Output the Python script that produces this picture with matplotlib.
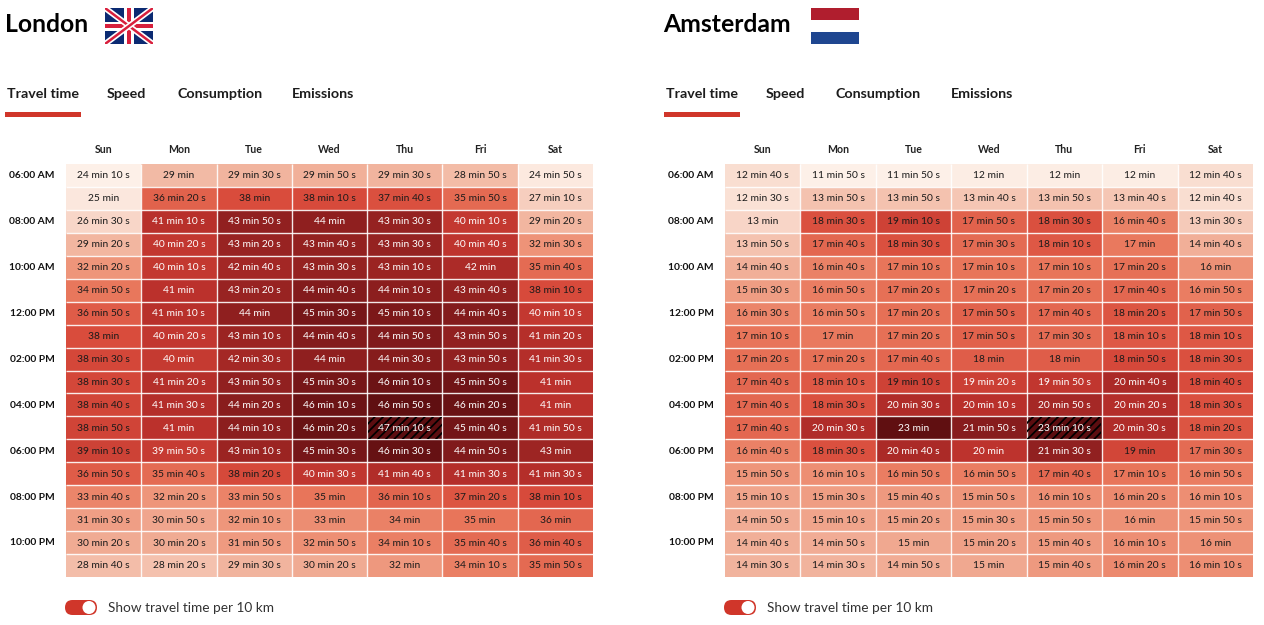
import matplotlib
matplotlib.use("Agg")
import matplotlib.pyplot as plt
import numpy as np
from matplotlib.colors import LinearSegmentedColormap
from matplotlib.patches import Rectangle, FancyBboxPatch, Circle

plt.rcParams['font.family'] = ['Lato', 'DejaVu Sans']
plt.rcParams['hatch.linewidth'] = 1.25

days = ["Sun", "Mon", "Tue", "Wed", "Thu", "Fri", "Sat"]
hour_labels = ["06:00 AM", "08:00 AM", "10:00 AM", "12:00 PM", "02:00 PM",
               "04:00 PM", "06:00 PM", "08:00 PM", "10:00 PM"]
tabs = ["Travel time", "Speed", "Consumption", "Emissions"]

london = [
    "24:10 29:00 29:30 29:50 29:30 28:50 24:50",
    "25:00 36:20 38:00 38:10 37:40 35:50 27:10",
    "26:30 41:10 43:50 44:00 43:30 40:10 29:20",
    "29:20 40:20 43:20 43:40 43:30 40:40 32:30",
    "32:20 40:10 42:40 43:30 43:10 42:00 35:40",
    "34:50 41:00 43:20 44:40 44:10 43:40 38:10",
    "36:50 41:10 44:00 45:30 45:10 44:40 40:10",
    "38:00 40:20 43:10 44:40 44:50 43:50 41:20",
    "38:30 40:00 42:30 44:00 44:30 43:50 41:30",
    "38:30 41:20 43:50 45:30 46:10 45:50 41:00",
    "38:40 41:30 44:20 46:10 46:50 46:20 41:00",
    "38:50 41:00 44:10 46:20 47:10 45:40 41:50",
    "39:10 39:50 43:10 45:30 46:30 44:50 43:00",
    "36:50 35:40 38:20 40:30 41:40 41:30 41:30",
    "33:40 32:20 33:50 35:00 36:10 37:20 38:10",
    "31:30 30:50 32:10 33:00 34:00 35:00 36:00",
    "30:20 30:20 31:50 32:50 34:10 35:40 36:40",
    "28:40 28:20 29:30 30:20 32:00 34:10 35:50",
]

amsterdam = [
    "12:40 11:50 11:50 12:00 12:00 12:00 12:40",
    "12:30 13:50 13:50 13:40 13:50 13:40 12:40",
    "13:00 18:30 19:10 17:50 18:30 16:40 13:30",
    "13:50 17:40 18:30 17:30 18:10 17:00 14:40",
    "14:40 16:40 17:10 17:10 17:10 17:20 16:00",
    "15:30 16:50 17:20 17:20 17:20 17:40 16:50",
    "16:30 16:50 17:20 17:50 17:40 18:20 17:50",
    "17:10 17:00 17:20 17:50 17:30 18:10 18:10",
    "17:20 17:20 17:40 18:00 18:00 18:50 18:30",
    "17:40 18:10 19:10 19:20 19:50 20:40 18:40",
    "17:40 18:30 20:30 20:10 20:50 20:20 18:30",
    "17:40 20:30 23:00 21:50 23:10 20:30 18:20",
    "16:40 18:30 20:40 20:00 21:30 19:00 17:30",
    "15:50 16:10 16:50 16:50 17:40 17:10 16:50",
    "15:10 15:30 15:40 15:50 16:10 16:20 16:10",
    "14:50 15:10 15:20 15:30 15:50 16:00 15:50",
    "14:40 14:50 15:00 15:20 15:40 16:10 16:00",
    "14:30 14:30 14:50 15:00 15:40 16:20 16:10",
]

W, H = 1264, 625
RED = "#d0362a"
cmap = LinearSegmentedColormap.from_list("heat", [
    (0.00, "#fdf0e8"), (0.21, "#f2b9a4"), (0.354, "#ee957a"), (0.47, "#e8755a"),
    (0.60, "#d94c3c"), (0.732, "#bb312c"), (0.862, "#8f1f1f"), (1.00, "#5c0d10"),
])


def to_seconds(rows):
    return np.array([[int(c.split(":")[0]) * 60 + int(c.split(":")[1])
                      for c in row.split()] for row in rows])


def label(sec):
    m, s = divmod(int(sec), 60)
    return f"{m} min {s} s" if s else f"{m} min"


def heatmap(fig, rows, left, top, right, bottom):
    ax = fig.add_axes([left / W, 1 - bottom / H, (right - left) / W, (bottom - top) / H])
    vals = to_seconds(rows)
    lo, hi = vals.min(), vals.max()
    ax.pcolormesh(np.arange(8), np.arange(19), vals, cmap=cmap, vmin=lo, vmax=hi)
    ax.set_xlim(0, 7)
    ax.set_ylim(18, 0)
    ax.vlines(np.arange(1, 7), 0, 18, color="white", lw=1.0, alpha=0.9, zorder=2)
    ax.hlines(np.arange(1, 18), 0, 7, color="white", lw=1.0, alpha=0.9, zorder=2)
    for r in range(vals.shape[0]):
        for c in range(vals.shape[1]):
            t = (vals[r, c] - lo) / (hi - lo)
            ax.text(c + 0.5, r + 0.52, label(vals[r, c]), ha="center", va="center",
                    fontsize=7.4, color="white" if t > 0.655 else "#1a1a1a", zorder=4)
    r, c = np.unravel_index(vals.argmax(), vals.shape)
    ax.add_patch(Rectangle((c + 0.01, r + 0.03), 0.98, 0.94, facecolor="none",
                           edgecolor="black", hatch="////", linewidth=0, zorder=3))
    ax.xaxis.tick_top()
    ax.set_xticks(np.arange(7) + 0.5, days, fontsize=7.6, fontweight="bold", color="#222222")
    ax.set_yticks(np.arange(len(hour_labels)) * 2 + 0.47, hour_labels, fontsize=7.4,
                  fontweight="bold", color="#111111")
    ax.tick_params(length=0)
    ax.tick_params(axis="x", pad=6.5)
    ax.tick_params(axis="y", pad=8)
    for s in ax.spines.values():
        s.set_visible(False)
    return ax


fig = plt.figure(figsize=(W / 100, H / 100), dpi=100, facecolor="white")
bg = fig.add_axes([0, 0, 1, 1])
bg.set_xlim(0, W)
bg.set_ylim(H, 0)
bg.axis("off")


def panel_header(title, x0, tab_xs, under):
    bg.text(x0, 25, title, fontsize=17.8, fontweight="bold", color="black", ha="left", va="center")
    for name, x in zip(tabs, tab_xs):
        bg.text(x, 94.5, name, fontsize=10.3, fontweight="bold", color="#1c1c1c", ha="left", va="center")
    bg.add_patch(Rectangle((under, 112), 76, 5, color=RED, lw=0))


def toggle(x0):
    bg.add_patch(FancyBboxPatch((x0 + 7.5, 607.5), 17, 0, boxstyle="round,pad=7.5",
                                fc=RED, ec="none"))
    bg.add_patch(Circle((x0 + 24, 607.5), 6.5, fc="white", ec="none", zorder=3))
    bg.text(x0 + 43, 608.5, "Show travel time per 10 km", fontsize=9.8, color="#333333",
            ha="left", va="center")


def uk_flag(x0, y0, w, h):
    x1, y1 = x0 + w, y0 + h
    navy, red = "#0b2a72", "#d81f3c"
    bg.add_patch(Rectangle((x0, y0), w, h, fc=navy, ec="none"))
    ax_clip = Rectangle((x0, y0), w, h, transform=bg.transData)
    for (a, b, c, d) in [(x0, y0, x1, y1), (x0, y1, x1, y0)]:
        l1, = bg.plot([a, c], [b, d], color="white", lw=4.2, solid_capstyle="butt")
        l2, = bg.plot([a, c], [b, d], color=red, lw=1.8, solid_capstyle="butt")
        l1.set_clip_path(ax_clip)
        l2.set_clip_path(ax_clip)
    xm, ym = x0 + w / 2, y0 + h / 2
    bg.add_patch(Rectangle((xm - 5, y0), 10, h, fc="white", ec="none"))
    bg.add_patch(Rectangle((x0, ym - 4.5), w, 9, fc="white", ec="none"))
    bg.add_patch(Rectangle((xm - 2.3, y0), 4.6, h, fc=red, ec="none"))
    bg.add_patch(Rectangle((x0, ym - 2.2), w, 4.4, fc=red, ec="none"))


def nl_flag(x0, y0, w):
    bg.add_patch(Rectangle((x0, y0), w, 12, fc="#b01e2e", ec="none"))
    bg.add_patch(Rectangle((x0, y0 + 24), w, 12, fc="#1f4690", ec="none"))


panel_header("London", 5, [7, 107, 177, 292], 5)
panel_header("Amsterdam", 663, [666, 766, 836, 951], 664)
uk_flag(105, 8, 48, 36)
nl_flag(811, 8, 48)
toggle(65)
toggle(724)

heatmap(fig, london, 66, 164, 593, 577)
heatmap(fig, amsterdam, 725, 164, 1253, 577)

fig.savefig("out.png", dpi=100, facecolor="white")
